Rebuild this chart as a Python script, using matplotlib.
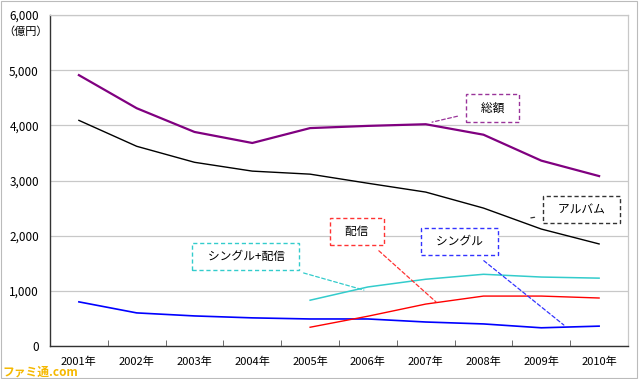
import matplotlib
matplotlib.use("Agg")
import matplotlib.pyplot as plt
import matplotlib.ticker as ticker
from matplotlib.patches import Rectangle

plt.rcParams['font.family'] = ['Noto Sans CJK JP', 'DejaVu Sans']

# data (億円)
years = ["2001年", "2002年", "2003年", "2004年", "2005年",
         "2006年", "2007年", "2008年", "2009年", "2010年"]
total = [4910, 4310, 3880, 3680, 3950, 3990, 4020, 3830, 3360, 3080]
album = [4090, 3620, 3330, 3170, 3115, 2950, 2790, 2500, 2120, 1850]
single = [800, 600, 545, 510, 490, 490, 435, 400, 330, 360]
# distribution / single+distribution start in 2005
dist_years = years[4:]
dist = [340, 540, 760, 905, 905, 870]
single_dist = [830, 1070, 1210, 1300, 1250, 1230]

yticks = [0, 1000, 2000, 3000, 4000, 5000, 6000]

fig = plt.figure(figsize=(6.4, 3.79), dpi=100, facecolor="white")
ax = fig.add_axes([50 / 640, 33 / 379, 578 / 640, 331 / 379])

xs = list(range(len(years)))
xd = xs[4:]

ax.plot(xs, total, color="#800080", lw=1.6, zorder=3)
ax.plot(xs, album, color="black", lw=1.0, zorder=3)
ax.plot(xs, single, color="#0000FF", lw=1.2, zorder=3)
ax.plot(xd, dist, color="#FF0000", lw=1.0, zorder=3)
ax.plot(xd, single_dist, color="#33CCCC", lw=1.1, zorder=3)

ax.set_xlim(-0.5, len(years) - 0.5)
ax.set_ylim(0, 6000)
ax.set_yticks(yticks)
ax.yaxis.set_major_formatter(ticker.FuncFormatter(lambda v, _: f"{int(v):,}"))
ax.grid(axis="y", color="#C8C8C8", lw=0.9, zorder=0)
ax.tick_params(axis="y", length=0, labelsize=8.5, pad=8)

ax.set_xticks(xs)
ax.set_xticklabels(years, fontsize=8)
ax.set_xticks([i + 0.5 for i in xs[:-1]], minor=True)
ax.tick_params(axis="x", which="major", length=0, pad=8)
ax.tick_params(axis="x", which="minor", direction="in", length=4, color="#555555")

for side in ("left", "bottom"):
    ax.spines[side].set_color("#333333")
    ax.spines[side].set_linewidth(1.0)
for side in ("top", "right"):
    ax.spines[side].set_color("#C8C8C8")
    ax.spines[side].set_linewidth(0.9)

fig.text(3 / 640, 1 - 32 / 379, "（億円）", fontsize=8, ha="left", va="center")

# dashed label boxes with leader lines
labels = [
    ("総額", (0.766, 0.719), (6.11, 4058), "#993399"),
    ("アルバム", (0.920, 0.412), (7.80, 2319), "#333333"),
    ("配信", (0.531, 0.347), (6.18, 797), "#FF3333"),
    ("シングル", (0.709, 0.316), (8.39, 380), "#3333FF"),
    ("シングル+配信", (0.339, 0.270), (4.93, 1014), "#33CCCC"),
]
for txt, pos, pt, col in labels:
    ax.annotate(
        "   " + txt + "   ", xy=pt, xycoords="data",
        xytext=pos, textcoords="axes fraction",
        fontsize=8.5, ha="center", va="center", zorder=5,
        bbox=dict(boxstyle="square,pad=0.6", facecolor="white",
                  edgecolor=col, linestyle=(0, (3, 2)), linewidth=1.0),
        arrowprops=dict(arrowstyle="-", color=col, linestyle=(0, (3, 2)),
                        lw=0.9, shrinkA=6, shrinkB=0),
    )

# outer frame
fig.patches.append(Rectangle((0.002, 0.003), 0.994, 0.994, transform=fig.transFigure,
                             fill=False, edgecolor="#BBBBBB", lw=0.8))

fig.text(2 / 640, 1 - 372 / 379, "ファミ通.com", fontsize=8.5, fontweight="bold",
         color="#F5B800", ha="left", va="center")

fig.savefig("out.png", dpi=100, facecolor="white")
